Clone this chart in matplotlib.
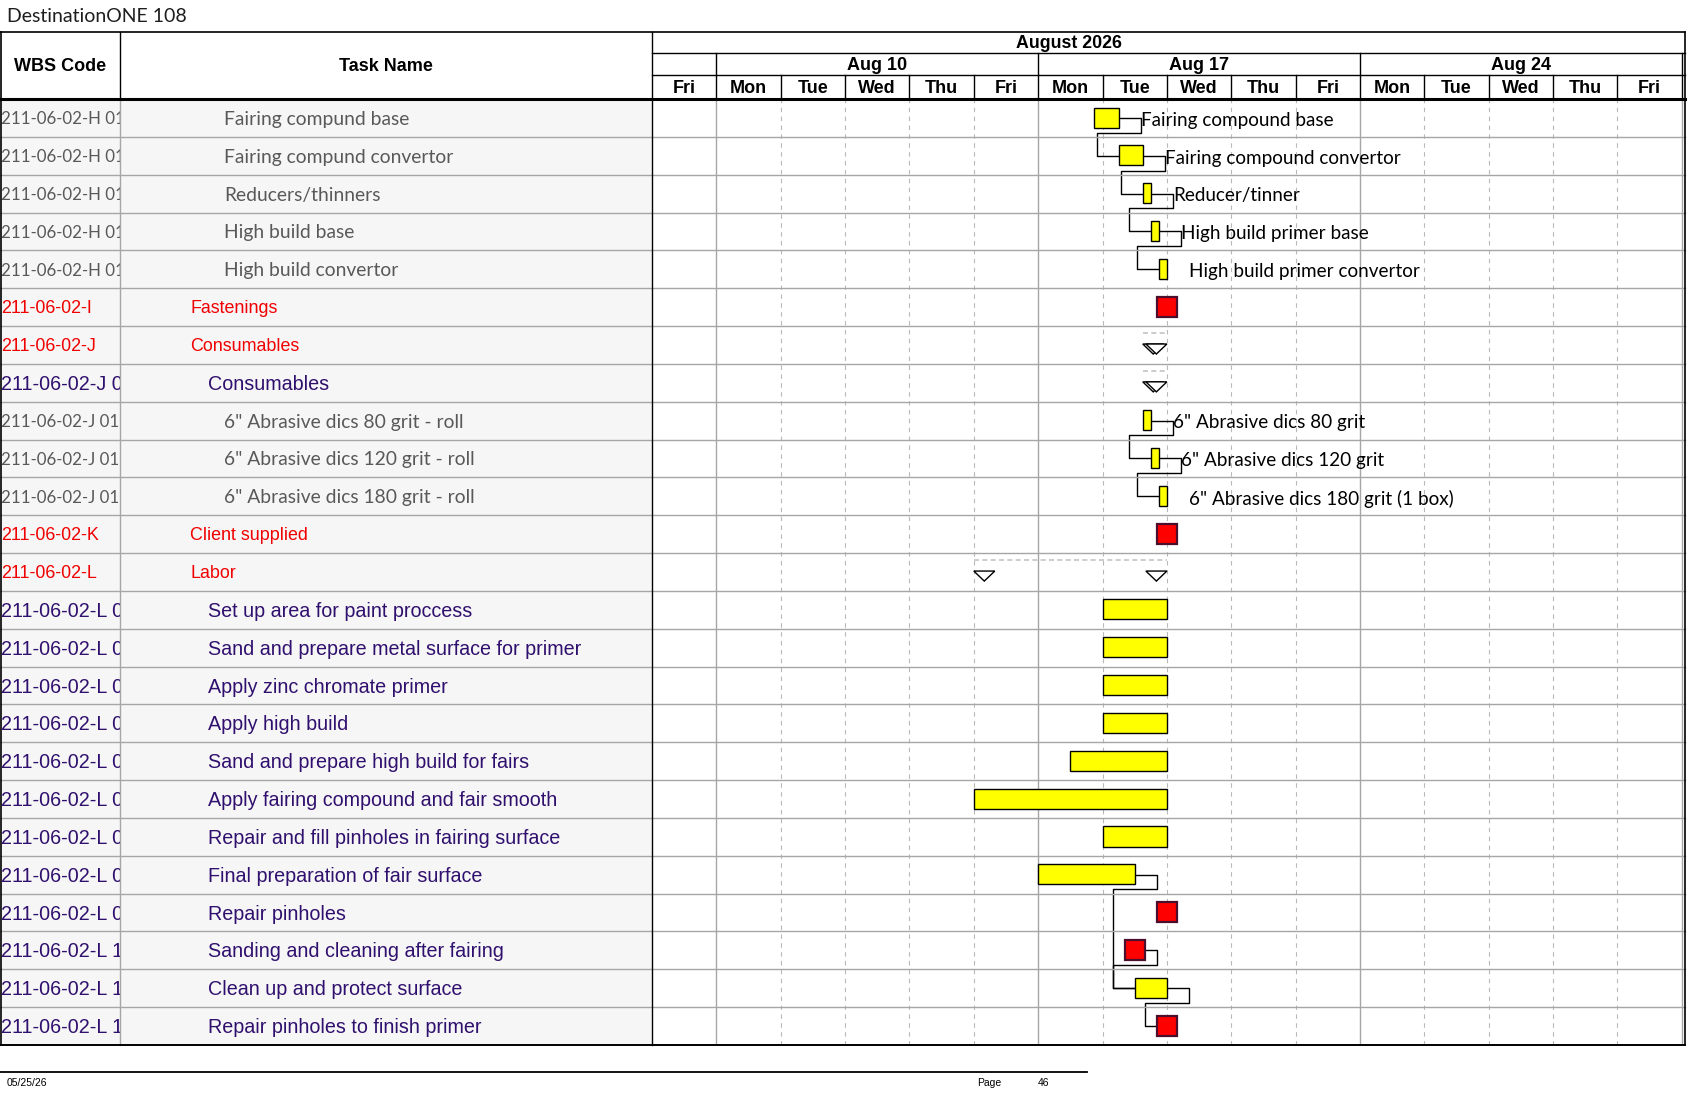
import matplotlib
matplotlib.use("Agg")
import matplotlib.pyplot as plt
from matplotlib.patches import Rectangle, Polygon

W, H = 1687, 1097

# ---- data ----
wbs_codes = [
    "211-06-02-H 01.01", "211-06-02-H 01.02", "211-06-02-H 01.03",
    "211-06-02-H 01.04", "211-06-02-H 01.05",
    "211-06-02-I", "211-06-02-J", "211-06-02-J 01",
    "211-06-02-J 01.01", "211-06-02-J 01.02", "211-06-02-J 01.03",
    "211-06-02-K", "211-06-02-L",
    "211-06-02-L 01", "211-06-02-L 02", "211-06-02-L 03", "211-06-02-L 04",
    "211-06-02-L 05", "211-06-02-L 06", "211-06-02-L 07", "211-06-02-L 08",
    "211-06-02-L 09", "211-06-02-L 10", "211-06-02-L 11", "211-06-02-L 12",
]
task_names = [
    "Fairing compund base", "Fairing compund convertor", "Reducers/thinners",
    "High build base", "High build convertor",
    "Fastenings", "Consumables", "Consumables",
    '6" Abrasive dics 80 grit - roll', '6" Abrasive dics 120 grit - roll',
    '6" Abrasive dics 180 grit - roll',
    "Client supplied", "Labor",
    "Set up area for paint proccess", "Sand and prepare metal surface for primer",
    "Apply zinc chromate primer", "Apply high build",
    "Sand and prepare high build for fairs", "Apply fairing compound and fair smooth",
    "Repair and fill pinholes in fairing surface", "Final preparation of fair surface",
    "Repair pinholes", "Sanding and cleaning after fairing",
    "Clean up and protect surface", "Repair pinholes to finish primer",
]
outline_level = [3, 3, 3, 3, 3, 1, 1, 2, 3, 3, 3, 1, 1,
                 2, 2, 2, 2, 2, 2, 2, 2, 2, 2, 2, 2]
# bar = yellow task bar, red = red box, summary = summary triangles
bar_kind = ["bar"] * 5 + ["red", "summary", "summary"] + ["bar"] * 3 + \
           ["red", "summary"] + ["bar"] * 8 + ["red", "red", "bar", "red"]
# working-day index: 0 = Fri Aug 7, 1 = Mon Aug 10 ... 15 = Fri Aug 28
task_start = [6.875, 7.25, 7.625, 7.75, 7.875, 8.0, 7.625, 7.625,
              7.625, 7.75, 7.875, 8.0, 5.0,
              7.0, 7.0, 7.0, 7.0, 6.5, 5.0, 7.0, 6.0, 8.0, 7.5, 7.5, 8.0]
task_finish = [7.25, 7.625, 7.75, 7.875, 8.0, 8.0, 8.0, 8.0,
               7.75, 7.875, 8.0, 8.0, 8.0,
               8.0, 8.0, 8.0, 8.0, 8.0, 8.0, 8.0, 7.5, 8.0, 7.5, 8.0, 8.0]
bar_text = ["Fairing compound base", "Fairing compound convertor", "Reducer/tinner",
            "High build primer base", "High build primer convertor",
            "", "", "",
            '6" Abrasive dics 80 grit', '6" Abrasive dics 120 grit',
            '6" Abrasive dics 180 grit (1 box)'] + [""] * 14
links = [(0, 1), (1, 2), (2, 3), (3, 4), (8, 9), (9, 10),
         (20, 23), (22, 23), (23, 24)]

day_names = ["Fri", "Mon", "Tue", "Wed", "Thu", "Fri", "Mon", "Tue", "Wed",
             "Thu", "Fri", "Mon", "Tue", "Wed", "Thu", "Fri"]
week_names = ["Aug 10", "Aug 17", "Aug 24"]
week_first_day = [1, 6, 11]
month_name = "August 2026"
month_label_day = 6.48

# ---- page geometry (pixels) ----
x_wbs, x_task, x_gantt, x_right = 0, 120.5, 652, 1685
y_top, y_month, y_week, y_head = 32.3, 52.7, 75.3, 99
y_bottom = 1045
n_rows = len(task_names)
row_h = (y_bottom - y_head) / n_rows
n_days = len(day_names)
day_px = 64.36
x_max = (x_right - x_gantt) / day_px

RED = "#f00000"
PURPLE = "#30106e"
GRAY = "#595959"
GRID = "#a6a6a6"
CAL = ["Lato", "DejaVu Sans"]
ARIAL = ["Liberation Sans", "DejaVu Sans"]

fig = plt.figure(figsize=(W / 100, H / 100), dpi=100)


def px_axes(x0, y0, x1, y1, **kw):
    return fig.add_axes([x0 / W, 1 - y1 / H, (x1 - x0) / W, (y1 - y0) / H], **kw)


# background page axes (pixel coords)
bg = px_axes(0, 0, W, H, zorder=0)
bg.set_xlim(0, W)
bg.set_ylim(H, 0)
bg.axis("off")
bg.add_patch(Rectangle((x_wbs, y_head), x_gantt - x_wbs, y_bottom - y_head,
                       facecolor="#f6f6f6", edgecolor="none"))

bg.text(7, 16, "DestinationONE 108", fontsize=14, family=CAL,
        va="center", ha="left", color="#1e1e1e")
bg.text((x_wbs + x_task) / 2, (y_top + y_head) / 2 + 1, "WBS Code", fontsize=13,
        family=ARIAL, weight="bold", ha="center", va="center")
bg.text((x_task + x_gantt) / 2, (y_top + y_head) / 2 + 1, "Task Name", fontsize=13,
        family=ARIAL, weight="bold", ha="center", va="center")

# footer
bg.plot([0, 1087], [1071.6, 1071.6], color="black", lw=1.3)
bg.text(7, 1083.5, "05/25/26", fontsize=7.5, family=ARIAL, va="center")
bg.text(977, 1083.5, "Page", fontsize=7.5, family=ARIAL, va="center")
bg.text(1038, 1083.5, "46", fontsize=7.5, family=ARIAL, va="center")

# left table columns, clipped like the printed page
ax_wbs = px_axes(x_wbs, y_head, x_task, y_bottom, zorder=2)
ax_task = px_axes(x_task, y_head, x_gantt, y_bottom, zorder=2)
for a, x0, x1 in ((ax_wbs, x_wbs, x_task), (ax_task, x_task, x_gantt)):
    a.set_xlim(x0, x1)
    a.set_ylim(n_rows, 0)
    a.axis("off")

indent = {1: 190.4, 2: 207.6, 3: 223.8}
for i in range(n_rows):
    lvl = outline_level[i]
    if lvl == 3:
        style = dict(color=GRAY, family=CAL)
        code_size, name_size = 12.2, 13.9
    elif lvl == 1:
        style = dict(color=RED, family=ARIAL)
        code_size, name_size = 12.9, 12.9
    else:
        style = dict(color=PURPLE, family=ARIAL)
        code_size, name_size = 14.2, 14.2
    ax_wbs.text(1, i + 0.54, wbs_codes[i], va="center", ha="left",
                fontsize=code_size, clip_on=True, **style)
    ax_task.text(indent[lvl], i + 0.54, task_names[i], va="center", ha="left",
                 fontsize=name_size, clip_on=True, **style)

# gantt body
ax = px_axes(x_gantt, y_head, x_right, y_bottom, zorder=3)
ax.set_xlim(0, x_max)
ax.set_ylim(n_rows, 0)
ax.axis("off")

for d in range(1, n_days + 1):
    if d in week_first_day or d == n_days:
        ax.axvline(d, color=GRID, lw=1)
    else:
        ax.axvline(d, color="#b8b8b8", lw=0.8, ls=(0, (4, 4)))

stub = 22 / day_px
box_w = 20 / day_px
tri_w = 21 / day_px

for i in range(n_rows):
    s, f = task_start[i], task_finish[i]
    kind = bar_kind[i]
    if kind == "bar":
        ax.add_patch(Rectangle((s, i + 0.225), f - s, 0.53, facecolor="#ffff00",
                               edgecolor="black", lw=1, zorder=4))
    elif kind == "red":
        ax.add_patch(Rectangle((f - box_w / 2, i + 0.225), box_w, 0.53,
                               facecolor="#ff0000", edgecolor="#4b0f2d",
                               lw=1.6, zorder=4))
    else:
        ax.plot([s, f], [i + 0.19, i + 0.19], color="#c4c4c4", lw=1.2,
                ls=(0, (3, 2)), zorder=4)
        for x0 in (s, f - tri_w):
            ax.add_patch(Polygon([(x0, i + 0.475), (x0 + tri_w, i + 0.475),
                                  (x0 + tri_w / 2, i + 0.74)], closed=True,
                                 facecolor="white", edgecolor="black", lw=1,
                                 zorder=4))
    if bar_text[i]:
        ax.text(f + stub, i + 0.56, bar_text[i], family=CAL, fontsize=13.6,
                va="center", ha="left", zorder=5)

for p, q in links:
    x_from = task_finish[p] + (box_w / 2 if bar_kind[p] == "red" else 0)
    x_to = task_start[q] - (box_w / 2 if bar_kind[q] == "red" else 0)
    x1 = task_finish[p] + stub
    x2 = task_start[q] - stub
    y_drop = p + 1 - 0.11
    ax.plot([x_from, x1, x1, x2, x2, x_to],
            [p + 0.5, p + 0.5, y_drop, y_drop, q + 0.5, q + 0.5],
            color="black", lw=1, zorder=3)

# gantt header (timescale)
axh = px_axes(x_gantt, y_top, x_right, y_head, zorder=3)
axh.set_xlim(0, x_max)
axh.set_ylim(y_head, y_top)
axh.axis("off")
axh.text(month_label_day, (y_top + y_month) / 2 + 1, month_name, fontsize=12.8,
         family=ARIAL, weight="bold", ha="center", va="center")
for k, name in enumerate(week_names):
    axh.text(week_first_day[k] + 2.5, (y_month + y_week) / 2 + 1.5, name,
             fontsize=13, family=ARIAL, weight="bold", ha="center", va="center")
    axh.plot([week_first_day[k]] * 2, [y_month, y_week], color="black", lw=1)
axh.plot([n_days] * 2, [y_month, y_week], color="black", lw=1)
for d, name in enumerate(day_names):
    axh.text(d + 0.5, (y_week + y_head) / 2 + 1, name, fontsize=13,
             family=ARIAL, weight="bold", ha="center", va="center")
    axh.plot([d + 1] * 2, [y_week, y_head], color="black", lw=1)

# table frame on top
fr = px_axes(0, 0, W, H, zorder=6)
fr.set_xlim(0, W)
fr.set_ylim(H, 0)
fr.axis("off")
fr.patch.set_alpha(0)
for k in range(1, n_rows):
    yy = y_head + k * row_h
    fr.plot([0, x_right], [yy, yy], color=GRID, lw=1, zorder=1)
fr.plot([x_task, x_task], [y_head, y_bottom], color=GRID, lw=1)
fr.plot([x_task, x_task], [y_top, y_head], color="black", lw=1)
fr.plot([0, x_right], [y_top, y_top], color="black", lw=1.2)
fr.plot([x_gantt, x_right], [y_month, y_month], color="black", lw=1)
fr.plot([x_gantt, x_right], [y_week, y_week], color="black", lw=1)
fr.plot([0, x_right], [y_head, y_head], color="black", lw=2.2)
fr.plot([0, x_right], [y_bottom, y_bottom], color="black", lw=1.4)
fr.plot([0.7, 0.7], [y_top, y_bottom], color="black", lw=1.2)
fr.plot([x_gantt, x_gantt], [y_top, y_bottom], color="black", lw=1)
fr.plot([x_right, x_right], [y_top, y_bottom], color="black", lw=1.2)

fig.savefig("out.png", dpi=100)
